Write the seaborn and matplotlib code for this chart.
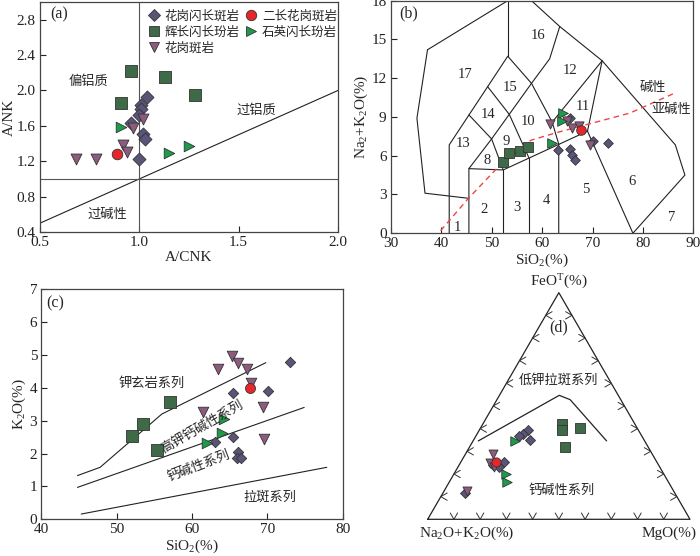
import numpy as np
import pandas as pd
import seaborn as sns
import matplotlib.pyplot as plt
from matplotlib.lines import Line2D

# rock groups, markers and colours
rocks = ['花岗闪长斑岩', '辉长闪长玢岩', '花岗斑岩', '二长花岗斑岩', '石英闪长玢岩']
markers = ['D', 's', 'v', 'o', '>']
colors = ['#5a5478', '#3e6a48', '#8c5b7d', '#e6262a', '#1c9b4b']

# (a) A/CNK - A/NK
a_gd_x = [1.04, 1.01, 1.01, 1.00, 0.96, 1.02, 1.03, 1.00]
a_gd_y = [1.93, 1.84, 1.79, 1.72, 1.63, 1.51, 1.45, 1.23]
a_gb_x = [0.96, 1.13, 0.91, 1.28]
a_gb_y = [2.22, 2.15, 1.86, 1.95]
a_gp_x = [0.68, 0.78, 0.92, 0.94, 0.97, 1.02]
a_gp_y = [1.23, 1.23, 1.38, 1.31, 1.58, 1.68]
a_mg_x = [0.89]
a_mg_y = [1.28]
a_qd_x = [0.91, 1.15, 1.25]
a_qd_y = [1.59, 1.29, 1.37]

# (b) TAS
b_gd_x = [63.1, 65.5, 65.9, 66.5, 65.5, 70.0, 73.1]
b_gd_y = [6.45, 6.5, 6.05, 5.7, 8.9, 7.15, 7.02]
b_gb_x = [52.3, 53.5, 55.6, 57.25]
b_gb_y = [5.54, 6.24, 6.4, 6.7]
b_gp_x = [61.6, 65.0, 66.0, 67.4, 69.4]
b_gp_y = [8.45, 8.7, 8.15, 8.3, 6.84]
b_mg_x = [67.7]
b_mg_y = [8.0]
b_qd_x = [64.2, 63.9, 61.9]
b_qd_y = [9.29, 8.72, 7.01]

tas_lines = [
    [(37.3, 14.2), (53.2, 18.0)],
    [(37.3, 14.2), (35.2, 8.9), (36.8, 3.1), (45.5, 2.7)],
    [(53.2, 18.0), (53.2, 13.7)],
    [(57.9, 18.0), (63.5, 16.0), (71.9, 13.35), (86.4, 6.84), (88.3, 4.5), (78.0, 0.0)],
    [(41.6, 0.0), (41.6, 6.84), (53.2, 13.7), (57.9, 11.6)],
    [(45.5, 9.16), (50.0, 7.3), (57.9, 11.6)],
    [(49.2, 11.35), (53.5, 9.2), (57.4, 5.83)],
    [(45.5, 0.0), (45.5, 5.0), (52.3, 4.9), (69.0, 7.9), (71.9, 13.35)],
    [(45.5, 5.0), (50.0, 7.3)],
    [(50.0, 7.3), (52.3, 4.9)],
    [(52.3, 0.0), (52.3, 4.9)],
    [(57.4, 0.0), (57.4, 5.83)],
    [(63.3, 0.0), (63.3, 6.9), (62.0, 8.6), (57.9, 11.6)],
    [(62.0, 8.6), (71.9, 13.35)],
    [(69.0, 7.9), (78.0, 0.0)],
    [(57.9, 11.6), (61.5, 13.5), (63.5, 16.0)],
]
tas_labels = ['1', '2', '3', '4', '5', '6', '7', '8', '9', '10', '11', '12', '13', '14', '15', '16', '17']
tas_lab_x = [43.3, 48.5, 55.0, 60.9, 68.6, 77.9, 85.6, 49.1, 52.8, 57.3, 68.0, 65.5, 44.4, 49.3, 53.6, 59.2, 44.7]
tas_lab_y = [0.44, 1.8, 2.0, 2.5, 3.4, 4.0, 1.24, 5.6, 7.1, 8.64, 9.8, 12.6, 6.96, 9.2, 11.3, 15.3, 12.25]
alk_x = [39.9, 45.4, 51.0, 57.8, 63.0, 77.4, 86.3]
alk_y = [0.2, 2.7, 5.0, 7.2, 7.8, 9.3, 10.85]

# (c) SiO2 - K2O
c_gd_x = [73.0, 65.5, 70.05, 65.4, 63.05, 66.06, 66.0, 66.5]
c_gd_y = [4.77, 3.83, 3.91, 2.51, 2.36, 2.06, 1.85, 1.85]
c_gb_x = [52.1, 53.45, 57.1, 55.4]
c_gb_y = [2.54, 2.9, 3.58, 2.1]
c_gp_x = [65.27, 66.15, 67.27, 63.4, 67.8, 61.5, 69.4, 69.6]
c_gp_y = [4.97, 4.74, 4.57, 4.57, 4.13, 3.27, 3.42, 2.43]
c_mg_x = [67.7]
c_mg_y = [3.98]
c_qd_x = [64.25, 63.94, 61.95]
c_qd_y = [3.04, 2.62, 2.31]
c_sho = [(44.8, 1.33), (47.8, 1.58), (56.0, 3.2), (69.8, 4.76)]
c_hk = [(44.8, 0.97), (74.9, 3.4)]
c_th = [(45.3, 0.16), (77.9, 1.58)]

# (d) AFM, values as A (Na2O+K2O), F (FeOT), M (MgO) %
d_gd_a = [41.8, 44.7, 46.7, 43.4, 58.2, 63.0, 61.2, 79.9]
d_gd_f = [39.6, 37.6, 36.7, 35.2, 25.4, 23.9, 22.9, 11.7]
d_gd_m = [18.6, 17.7, 16.6, 21.4, 16.4, 13.1, 15.9, 8.4]
d_gb_a = [27.7, 28.9, 21.9, 31.8]
d_gb_f = [41.9, 39.6, 40.1, 31.7]
d_gb_m = [30.4, 31.5, 38.0, 36.5]
d_gp_a = [60.5, 63.8, 63.1, 78.6]
d_gp_f = [29.0, 25.0, 23.2, 12.6]
d_gp_m = [10.5, 11.2, 13.7, 8.8]
d_mg_a = [61.4]
d_mg_f = [25.1]
d_mg_m = [13.5]
d_qd_a = [49.5, 60.0, 61.6]
d_qd_f = [34.5, 20.0, 16.6]
d_qd_m = [16.0, 20.0, 21.8]
afm_a = [63.4, 22.5, 19.3, 14.5]
afm_f = [34.6, 54.7, 52.8, 34.6]
afm_m = [2.0, 22.8, 27.9, 50.9]

sns.set_theme(style='ticks')
plt.rcParams['font.family'] = ['Liberation Serif', 'Noto Sans CJK SC', 'DejaVu Sans']
plt.rcParams['mathtext.fontset'] = 'custom'
plt.rcParams['mathtext.rm'] = 'Liberation Serif'
plt.rcParams['mathtext.default'] = 'regular'
plt.rcParams['axes.edgecolor'] = '#444444'
plt.rcParams['axes.linewidth'] = 0.9
cjk = ['Noto Sans CJK SC', 'DejaVu Sans']

fig = plt.figure(figsize=(7.0, 5.56), dpi=100)
ax_a = fig.add_axes([0.0571, 0.5827, 0.4257, 0.4137])
ax_b = fig.add_axes([0.5581, 0.5805, 0.4326, 0.4183])
ax_c = fig.add_axes([0.0591, 0.0660, 0.4303, 0.4142])
ax_d = fig.add_axes([0.6110, 0.0660, 0.3747, 0.4076])


def draw_groups(ax, xs, ys, sizes):
    for x, y, mk, col, s in zip(xs, ys, markers, colors, sizes):
        df = pd.DataFrame({'x': x, 'y': y})
        sns.scatterplot(data=df, x='x', y='y', marker=mk, color=col, s=s,
                        edgecolor='#333333', linewidth=0.6, ax=ax, legend=False,
                        zorder=3, clip_on=False)
    ax.set_xlabel('')
    ax.set_ylabel('')


def style_ax(ax):
    ax.tick_params(direction='in', length=4, width=0.8, labelsize=11,
                   colors='#222222', pad=3)
    for sp in ax.spines.values():
        sp.set_visible(True)


# ---- (a)
ax = ax_a
ax.plot([0.5, 2.0], [0.5, 2.0], color='#222222', lw=0.8)
ax.axvline(1.0, color='#555555', lw=0.8)
ax.axhline(1.0, color='#555555', lw=0.8)
draw_groups(ax, [a_gd_x, a_gb_x, a_gp_x, a_mg_x, a_qd_x],
            [a_gd_y, a_gb_y, a_gp_y, a_mg_y, a_qd_y], [44, 64, 62, 58, 58])
ax.set_xlim(0.5, 2.0)
ax.set_ylim(0.4, 3.0)
ax.set_xticks([0.5, 1.0, 1.5, 2.0])
ax.set_yticks([0.4, 0.8, 1.2, 1.6, 2.0, 2.4, 2.8])
ax.set_xticklabels(['0.5', '1.0', '1.5', '2.0'])
ax.set_yticklabels(['0.4', '0.8', '1.2', '1.6', '2.0', '2.4', '2.8'])
ax.set_xlabel('A/CNK', fontsize=11, labelpad=1)
ax.set_ylabel('A/NK', fontsize=11, labelpad=1)
ax.text(0.597, 2.856, '(a)', fontsize=11.5, ha='center', va='center')
ax.text(0.743, 2.10, '偏铝质', fontsize=9.5, ha='center', va='center', family=cjk)
ax.text(1.589, 1.78, '过铝质', fontsize=9.5, ha='center', va='center', family=cjk)
ax.text(0.839, 0.595, '过碱性', fontsize=9.5, ha='center', va='center', family=cjk)
order = [0, 1, 2, 3, 4]
handles = [Line2D([], [], ls='none', marker=markers[i], color=colors[i],
                  markeredgecolor='#333333', markeredgewidth=0.6,
                  markersize=7.5 if markers[i] != 'D' else 6.3) for i in order]
leg = ax.legend(handles, [rocks[i] for i in order], ncol=2, loc='upper left',
                bbox_to_anchor=(0.33, 1.0), frameon=False,
                handletextpad=0.2, columnspacing=0.3, labelspacing=0.25,
                handlelength=1.3, borderaxespad=0.2, prop={'family': cjk, 'size': 9})
style_ax(ax)

# ---- (b)
ax = ax_b
for seg in tas_lines:
    xs, ys = zip(*seg)
    ax.plot(xs, ys, color='#222222', lw=0.8)
ax.plot(alk_x, alk_y, color='#ee4444', lw=1.0, ls=(0, (4, 3)))
for lab, x, y in zip(tas_labels, tas_lab_x, tas_lab_y):
    ax.text(x, y, lab, fontsize=10.5, ha='center', va='center')
draw_groups(ax, [b_gd_x, b_gb_x, b_gp_x, b_mg_x, b_qd_x],
            [b_gd_y, b_gb_y, b_gp_y, b_mg_y, b_qd_y], [24, 50, 44, 48, 48])
ax.set_xlim(30, 90)
ax.set_ylim(0, 18)
ax.set_xticks(range(30, 91, 10))
ax.set_yticks(range(0, 19, 3))
ax.set_xlabel('SiO$_2$(%)', fontsize=11, labelpad=1)
ax.set_ylabel('Na$_2$+K$_2$O(%)', fontsize=11, labelpad=1)
ax.text(33.5, 17.0, '(b)', fontsize=11.5, ha='center', va='center')
ax.text(82.0, 11.3, '碱性', fontsize=9.5, ha='center', va='center', family=cjk)
ax.text(85.6, 9.6, '亚碱性', fontsize=9.5, ha='center', va='center', family=cjk)
style_ax(ax)

# ---- (c)
ax = ax_c
for seg in [c_sho, c_hk, c_th]:
    xs, ys = zip(*seg)
    ax.plot(xs, ys, color='#222222', lw=0.8)
draw_groups(ax, [c_gd_x, c_gb_x, c_gp_x, c_mg_x, c_qd_x],
            [c_gd_y, c_gb_y, c_gp_y, c_mg_y, c_qd_y], [28, 68, 58, 52, 58])
ax.set_xlim(40, 80)
ax.set_ylim(0, 7)
ax.set_xticks(range(40, 81, 10))
ax.set_yticks(range(0, 8))
ax.set_xlabel('SiO$_2$(%)', fontsize=11, labelpad=1)
ax.set_ylabel('K$_2$O(%)', fontsize=11, labelpad=1)
ax.text(41.9, 6.56, '(c)', fontsize=11.5, ha='center', va='center')
ax.text(54.65, 4.13, '钾玄岩系列', fontsize=9.5, ha='center', va='center', family=cjk)
ax.text(61.3, 2.8, '高钾钙碱性系列', fontsize=9.5, ha='center', va='center',
        rotation=30, family=cjk)
ax.text(60.9, 1.63, '钙碱性系列', fontsize=9.5, ha='center', va='center',
        rotation=21, family=cjk)
ax.text(70.3, 0.66, '拉斑系列', fontsize=9.5, ha='center', va='center', family=cjk)
style_ax(ax)


# ---- (d) AFM ternary
def tern(a, f, m):
    a, f, m = (np.asarray(v, dtype=float) for v in (a, f, m))
    tot = a + f + m
    return m / tot + f / tot / 2, f / tot * np.sqrt(3) / 2


ax = ax_d
h = np.sqrt(3) / 2
ax.plot([0, 1, 0.5, 0], [0, 0, h, 0], color='#222222', lw=0.9, clip_on=False)
L = 0.028
for i in range(1, 10):
    t = i / 10
    ax.plot([t - L * 0.5, t, t + L * 0.5], [L * h, 0, L * h], color='#333333', lw=0.7)
    x0, y0 = t * 0.5, t * h
    ax.plot([x0 + L * h, x0, x0 + L * h], [y0 + L * 0.5, y0, y0 - L * 0.5], color='#333333', lw=0.7)
    x0 = 1 - t * 0.5
    ax.plot([x0 - L * h, x0, x0 - L * h], [y0 + L * 0.5, y0, y0 - L * 0.5], color='#333333', lw=0.7)
bx, by = tern(afm_a, afm_f, afm_m)
ax.plot(bx, by, color='#222222', lw=0.9)
dx, dy = [], []
for a, f, m in [(d_gd_a, d_gd_f, d_gd_m), (d_gb_a, d_gb_f, d_gb_m), (d_gp_a, d_gp_f, d_gp_m),
                (d_mg_a, d_mg_f, d_mg_m), (d_qd_a, d_qd_f, d_qd_m)]:
    x, y = tern(a, f, m)
    dx.append(x)
    dy.append(y)
draw_groups(ax, dx, dy, [26, 50, 42, 44, 46])
ax.set_xlim(0, 1)
ax.set_ylim(0, h)
ax.set_aspect('auto')
ax.axis('off')
ax.text(0.5, h + 0.005, 'FeO$^{T}$(%)', fontsize=11, ha='center', va='bottom')
ax.text(0.5, 0.732, '(d)', fontsize=11.5, ha='center', va='center')
ax.text(0.5, 0.531, '低钾拉斑系列', fontsize=9.5, ha='center', va='center', family=cjk)
ax.text(0.511, 0.109, '钙碱性系列', fontsize=9.5, ha='center', va='center', family=cjk)
ax.text(0.149, -0.053, 'Na$_2$O+K$_2$O(%)', fontsize=11, ha='center', va='center')
ax.text(0.921, -0.053, 'MgO(%)', fontsize=11, ha='center', va='center')

fig.savefig('out.png', dpi=100)
